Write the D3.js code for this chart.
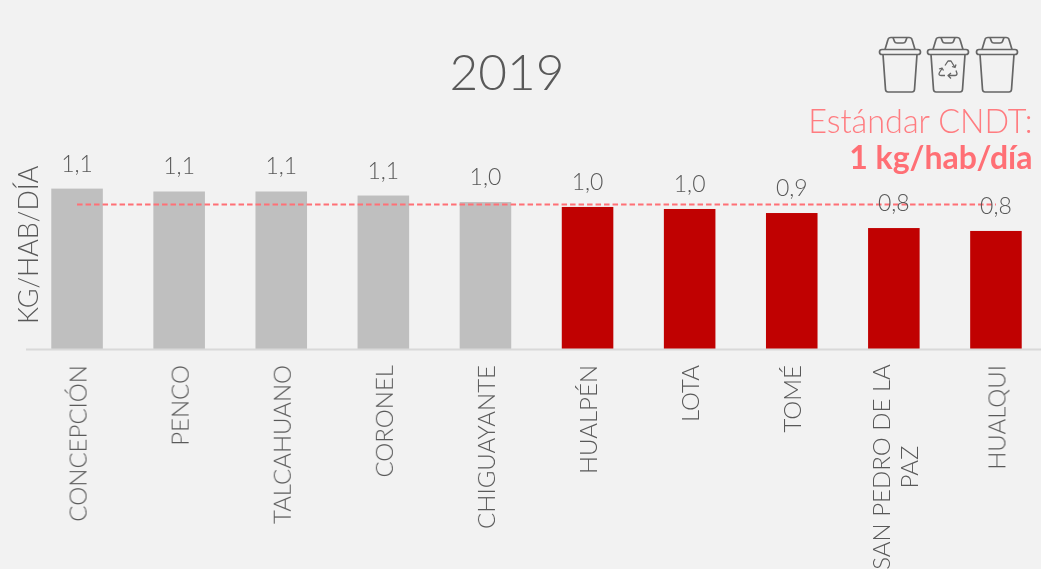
<!DOCTYPE html>
<html><head><meta charset="utf-8">
<script src="https://cdn.jsdelivr.net/npm/d3@7"></script>
<style>
html,body{margin:0;padding:0;background:#f2f2f2;overflow:hidden}
svg{display:block}
text{font-family:Lato,sans-serif;font-weight:300;fill:#595959}
</style></head><body><svg id="c" width="1041" height="569"></svg>
<script>
const categories=["CONCEPCIÓN","PENCO","TALCAHUANO","CORONEL","CHIGUAYANTE","HUALPÉN","LOTA","TOMÉ","SAN PEDRO DE LA|PAZ","HUALQUI"];
const values=[1.11,1.09,1.09,1.062,1.017,0.983,0.969,0.941,0.837,0.817];
const labels=["1,1","1,1","1,1","1,1","1,0","1,0","1,0","0,9","0,8","0,8"];
const standard=1.0;
const greyCount=5;

const svg=d3.select("#c");
const root=svg.append("g").style("opacity",0.999);
const x=d3.scaleBand().domain(categories).range([26,1047]).paddingInner(0.495).paddingOuter(0.2475);
const y=d3.scaleLinear().domain([0,1]).range([349,204.5]);

root.selectAll("rect.bar").data(categories).join("rect").attr("class","bar")
 .attr("x",d=>x(d)).attr("width",x.bandwidth())
 .attr("y",(d,i)=>y(values[i])).attr("height",(d,i)=>y(0)-y(values[i]))
 .attr("fill",(d,i)=>i<greyCount?"#bfbfbf":"#c00000");

root.append("line").attr("x1",26).attr("x2",1041).attr("y1",349.5).attr("y2",349.5)
 .attr("stroke","#d9d9d9").attr("stroke-width",2);

const cx=d=>x(d)+x.bandwidth()/2;
root.append("line").attr("x1",cx(categories[0])).attr("x2",cx(categories[9]))
 .attr("y1",y(standard)).attr("y2",y(standard))
 .attr("stroke","#ff7076").attr("stroke-width",2).attr("stroke-dasharray","5.5 3");

root.selectAll("text.val").data(categories).join("text").attr("class","val")
 .attr("x",cx).attr("y",(d,i)=>y(values[i])-17)
 .attr("text-anchor","middle").attr("font-size",23).text((d,i)=>labels[i]);

categories.forEach(c=>{
  const lines=c.split("|");
  if(lines.length>1){
    lines.forEach((t,j)=>{
      root.append("text").attr("transform",`translate(${cx(c)-4+j*28},467) rotate(-90)`)
       .attr("text-anchor","middle").attr("font-size",24).text(t);
    });
  } else {
    root.append("text").attr("transform",`translate(${cx(c)+9.5},365) rotate(-90)`)
     .attr("text-anchor","end").attr("font-size",24).text(c);
  }
});

root.append("text").attr("transform","translate(38,324) rotate(-90)")
 .attr("font-size",26.8).text("KG/HAB/DÍA");
root.append("text").attr("x",507).attr("y",90).attr("text-anchor","middle").attr("font-size",49.5).text("2019");

root.append("text").attr("x",1032.5).attr("y",133).attr("text-anchor","end").attr("font-size",32.4)
 .style("fill","#ff7c80").text("Estándar CNDT:");
root.append("text").attr("x",1032.5).attr("y",169).attr("text-anchor","end").attr("font-size",32)
 .style("font-weight",700).style("fill","#ff6f75").text("1 kg/hab/día");

const bins=[900,948,997];
bins.forEach((bx,i)=>{
  const g=root.append("g").attr("transform",`translate(${bx},37.5)`).attr("fill","none")
   .attr("stroke","#666").attr("stroke-width",1.7).attr("stroke-linejoin","round");
  g.append("path").attr("d","M-15,12 L-12,2 Q-11.5,0 -9,0 L9,0 Q11.5,0 12,2 L15,12");
  g.append("path").attr("d","M-7,0 L-5.5,4 Q-5,5.5 -3,5.5 L3,5.5 Q5,5.5 5.5,4 L7,0");
  g.append("rect").attr("x",-20.5).attr("y",12).attr("width",41).attr("height",5).attr("rx",2.5);
  g.append("path").attr("d","M-17,17 L-14.5,52 Q-14.2,54.5 -12,54.5 L12,54.5 Q14.2,54.5 14.5,52 L17,17");
  if(i===1){
    g.append("path").attr("stroke-width",1.3).attr("d","M-3,28 L0,23.5 L3,23.5 L7,30 M4,29 L7,30 L8,27 M8,33 L9,36 Q9,38 7,38 L1,38 M3,35.5 L0,38 L3,41 M-3,38 L-7,38 Q-10,38 -8.5,35 L-6,31 M-9,31.5 L-6,30.5 L-4.5,33");
  }
});
</script></body></html>
